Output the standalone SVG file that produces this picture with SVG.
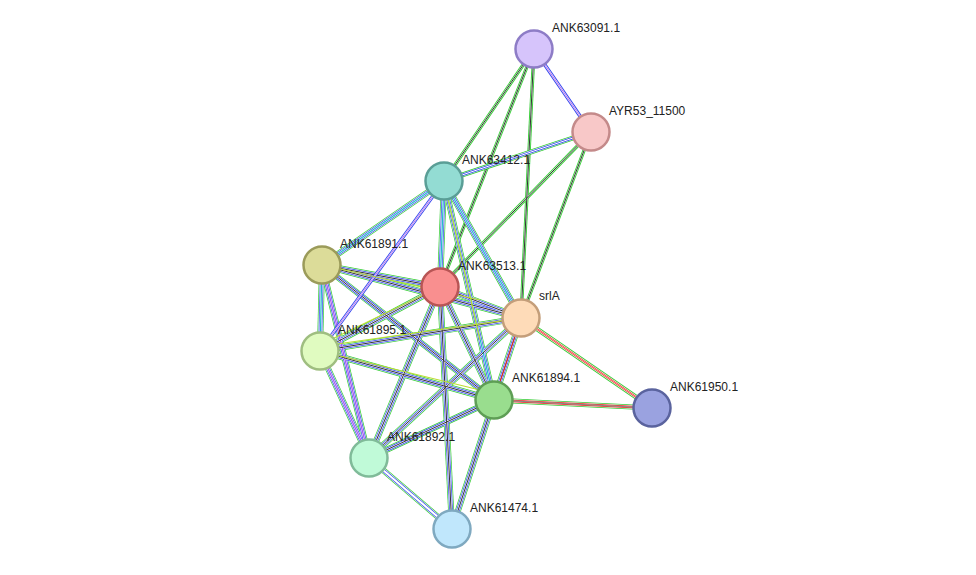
<svg xmlns="http://www.w3.org/2000/svg" xmlns:xlink="http://www.w3.org/1999/xlink" width="976" height="575" viewBox="0 0 976 575">
<style>
.e{fill:none}
.g{stroke:#33cc33;stroke-width:6}
.b{stroke:#3344ee;stroke-width:3.6}
.c{stroke:#22bbcc}
.p{stroke:#aa55ee}
.k{stroke:#333;stroke-width:1}
.w{stroke:#fff}
.w1{stroke:#fff;stroke-width:4.6}
.w2{stroke:#fff;stroke-width:2.2}
.r{stroke:#ee2222}
.y{stroke:#bbdd33;stroke-width:1.2}
.n circle{stroke-width:2.5}
text{font-family:"Liberation Sans",Arial,sans-serif;font-size:12px;fill:#222}
</style>
<defs>
<path id="e1" d="M534 49L444 181"/><path id="e2" d="M534 49L440 287"/><path id="e3" d="M534 49L521 318"/><path id="e4" d="M534 49L591 132"/>
<path id="e5" d="M591 132L444 181"/><path id="e6" d="M591 132L440 287"/><path id="e7" d="M591 132L521 318"/>
<path id="e8" d="M444 181L322 265"/><path id="e9" d="M444 181L440 287"/><path id="e10" d="M444 181L521 318"/><path id="e11" d="M444 181L320 351"/><path id="e12" d="M444 181L494 400"/>
<path id="e13" d="M322 265L440 287"/><path id="e14" d="M322 265L521 318"/><path id="e15" d="M322 265L320 351"/><path id="e16" d="M322 265L494 400"/><path id="e17" d="M322 265L369 458"/>
<path id="e18" d="M440 287L521 318"/><path id="e19" d="M440 287L320 351"/><path id="e20" d="M440 287L494 400"/><path id="e21" d="M440 287L369 458"/><path id="e22" d="M440 287L452 529"/>
<path id="e23" d="M521 318L320 351"/><path id="e24" d="M521 318L494 400"/><path id="e25" d="M521 318L652 408"/><path id="e26" d="M521 318L369 458"/>
<path id="e27" d="M320 351L494 400"/><path id="e28" d="M320 351L369 458"/>
<path id="e29" d="M494 400L652 408"/><path id="e30" d="M494 400L369 458"/><path id="e31" d="M494 400L452 529"/><path id="e32" d="M369 458L452 529"/>
</defs>
<g id="connectors" class="e">
<g class="g" style="stroke-width:3.4"><use href="#e1"/><use href="#e2"/><use href="#e3"/><use href="#e6"/><use href="#e7"/></g>
<g class="w" style="stroke-width:1.6"><use href="#e1"/><use href="#e2"/><use href="#e3"/><use href="#e6"/><use href="#e7"/></g>
<g class="k" style="stroke-width:1"><use href="#e1"/><use href="#e2"/><use href="#e3"/><use href="#e6"/><use href="#e7"/></g>
<use href="#e4" class="b" style="stroke-width:3.6"/><use href="#e4" class="w" style="stroke-width:1.6"/><use href="#e4" class="p" style="stroke-width:0.8"/>
<use href="#e5" class="g" style="stroke-width:5"/><use href="#e5" class="w" style="stroke-width:3.4"/><use href="#e5" class="b" style="stroke-width:2.4"/><use href="#e5" class="w" style="stroke-width:1"/>
<g class="g"><use href="#e8"/><use href="#e9"/><use href="#e10"/><use href="#e12"/><use href="#e13"/><use href="#e14"/><use href="#e15"/><use href="#e16"/><use href="#e17"/><use href="#e18"/><use href="#e19"/><use href="#e20"/><use href="#e21"/><use href="#e22"/><use href="#e23"/><use href="#e24"/><use href="#e26"/><use href="#e27"/><use href="#e28"/><use href="#e30"/><use href="#e31"/><use href="#e32"/></g>
<g class="w1"><use href="#e8"/><use href="#e9"/><use href="#e10"/><use href="#e12"/><use href="#e13"/><use href="#e14"/><use href="#e15"/><use href="#e16"/><use href="#e17"/><use href="#e18"/><use href="#e19"/><use href="#e20"/><use href="#e21"/><use href="#e22"/><use href="#e23"/><use href="#e24"/><use href="#e26"/><use href="#e27"/><use href="#e28"/><use href="#e30"/><use href="#e31"/><use href="#e32"/></g>
<g class="b"><use href="#e8"/><use href="#e9"/><use href="#e10"/><use href="#e12"/><use href="#e13"/><use href="#e14"/><use href="#e15"/><use href="#e16"/><use href="#e17"/><use href="#e18"/><use href="#e19"/><use href="#e20"/><use href="#e21"/><use href="#e22"/><use href="#e23"/><use href="#e24"/><use href="#e26"/><use href="#e27"/><use href="#e28"/><use href="#e30"/><use href="#e31"/><use href="#e32"/></g>
<g class="w2"><use href="#e8"/><use href="#e9"/><use href="#e10"/><use href="#e12"/><use href="#e13"/><use href="#e14"/><use href="#e15"/><use href="#e16"/><use href="#e17"/><use href="#e18"/><use href="#e19"/><use href="#e20"/><use href="#e21"/><use href="#e22"/><use href="#e23"/><use href="#e24"/><use href="#e26"/><use href="#e27"/><use href="#e28"/><use href="#e30"/><use href="#e31"/><use href="#e32"/></g>
<g class="c" style="stroke-width:1.2"><use href="#e8"/><use href="#e9"/><use href="#e10"/><use href="#e12"/><use href="#e15"/></g>
<g class="p" style="stroke-width:1.2"><use href="#e17"/><use href="#e28"/></g>
<g class="k"><use href="#e13"/><use href="#e14"/><use href="#e16"/><use href="#e18"/><use href="#e19"/><use href="#e20"/><use href="#e21"/><use href="#e22"/><use href="#e23"/><use href="#e24"/><use href="#e26"/><use href="#e27"/><use href="#e30"/><use href="#e31"/></g>
<use href="#e11" class="b" style="stroke-width:3.4"/><use href="#e11" class="w" style="stroke-width:1.6"/><use href="#e11" class="p" style="stroke-width:0.8"/>
<g class="y"><path d="M444 181L480 340"/><path d="M322 265L480 300"/><path d="M330 345L521 318"/><path d="M440 287L330 340"/><path d="M320 351L480 390"/></g>
<use href="#e24" class="r" style="stroke-width:1"/>
<g><use href="#e25" class="g" style="stroke-width:4.6"/><use href="#e25" class="w" style="stroke-width:2.8"/><use href="#e25" class="r" style="stroke-width:1.8"/><use href="#e25" class="w" style="stroke-width:0.6"/></g>
<g><use href="#e29" class="g" style="stroke-width:5"/><use href="#e29" class="w" style="stroke-width:3.4"/><use href="#e29" class="r" style="stroke-width:2.4"/><use href="#e29" class="w" style="stroke-width:1"/><use href="#e29" class="k" style="stroke-width:0.6"/></g>
</g>
<g class="n">
<g id="ANK63091.1"><circle cx="534" cy="49" r="18.5" fill="#d6c4fb" stroke="#8d7cc6"/><text x="552" y="32">ANK63091.1</text></g>
<g id="AYR53_11500"><circle cx="591" cy="132" r="18.5" fill="#f8c8c8" stroke="#c48a8a"/><text x="609" y="115">AYR53_11500</text></g>
<g id="ANK63412.1"><circle cx="444" cy="181" r="18.5" fill="#93dcd3" stroke="#5a9e96"/><text x="462" y="164">ANK63412.1</text></g>
<g id="ANK61891.1"><circle cx="322" cy="265" r="18.5" fill="#dcdc99" stroke="#9b9b5a"/><text x="340" y="248">ANK61891.1</text></g>
<g id="ANK63513.1"><circle cx="440" cy="287" r="18.5" fill="#f98f8f" stroke="#b85555"/><text x="458" y="270">ANK63513.1</text></g>
<g id="srlA"><circle cx="521" cy="318" r="18.5" fill="#fedbb8" stroke="#c49e7a"/><text x="539" y="300">srlA</text></g>
<g id="ANK61895.1"><circle cx="320" cy="351" r="18.5" fill="#e0fbc0" stroke="#9fbe80"/><text x="338" y="334">ANK61895.1</text></g>
<g id="ANK61894.1"><circle cx="494" cy="400" r="18.5" fill="#99dd8e" stroke="#5e9e55"/><text x="512" y="382">ANK61894.1</text></g>
<g id="ANK61950.1"><circle cx="652" cy="408" r="18.5" fill="#9aa2e0" stroke="#5a639e"/><text x="670" y="391">ANK61950.1</text></g>
<g id="ANK61892.1"><circle cx="369" cy="458" r="18.5" fill="#c0fad8" stroke="#80bb99"/><text x="387" y="441">ANK61892.1</text></g>
<g id="ANK61474.1"><circle cx="452" cy="529" r="18.5" fill="#c0e7fc" stroke="#7fa9c0"/><text x="470" y="512">ANK61474.1</text></g>
</g>
</svg>
